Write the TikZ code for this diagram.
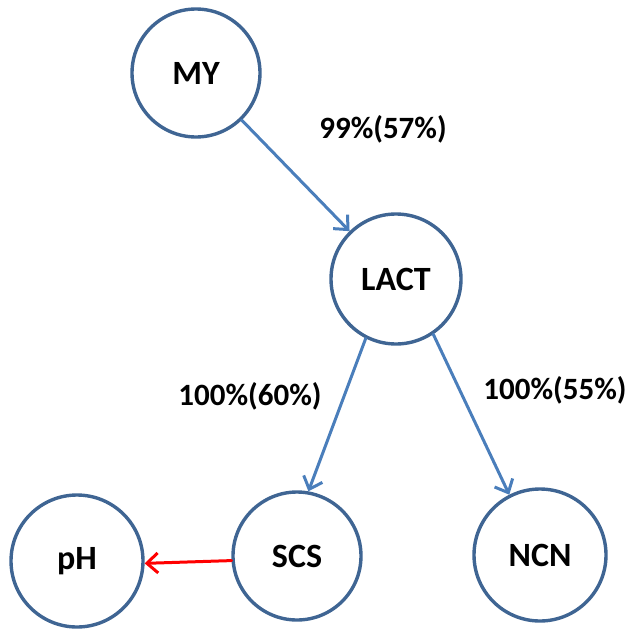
\documentclass[tikz,border=0pt]{standalone}
\usepackage{fontspec}
\setmainfont{Carlito}
\usepackage{tikz}
\usetikzlibrary{arrows.meta}
\usepackage{xcolor}
\definecolor{ringblue}{HTML}{3F6593}
\definecolor{linkblue}{HTML}{4A7EBB}

\begin{document}
\begin{tikzpicture}[x=1pt,y=-1pt,>={Straight Barb[length=11pt,width=20pt]},font=\bfseries,line cap=round,
  var/.style={circle,draw=ringblue,line width=3.4pt,minimum size=128pt,inner sep=0pt,font=\bfseries\fontsize{34}{40}\selectfont},
  link/.style={->,linkblue,line width=3pt},
  pct/.style={font=\bfseries\fontsize{31}{36}\selectfont}]
\useasboundingbox (0,0) rectangle (631,629);
\node[var] (my) at (196,73) {MY};
\node[var,minimum size=130pt] (lact) at (396,279) {LACT};
\node[var] (scs) at (297,556) {SCS};
\node[var,minimum size=132pt] (ncn) at (540,555) {NCN};
\node[var,minimum size=132pt] (ph) at (77,561) {pH};
\draw[link] (my) -- (lact);
\draw[link] (lact.243) -- (scs.80);
\draw[link] (lact.304) -- (ncn.117);
\draw[link,red] (scs.184) -- (ph.358);
\node[pct] (l1) at (383,129) {99\%(57\%)};
\node[pct] (l2) at (250,396) {100\%(60\%)};
\node[pct] (l3) at (555,390) {100\%(55\%)};
\end{tikzpicture}
\end{document}
